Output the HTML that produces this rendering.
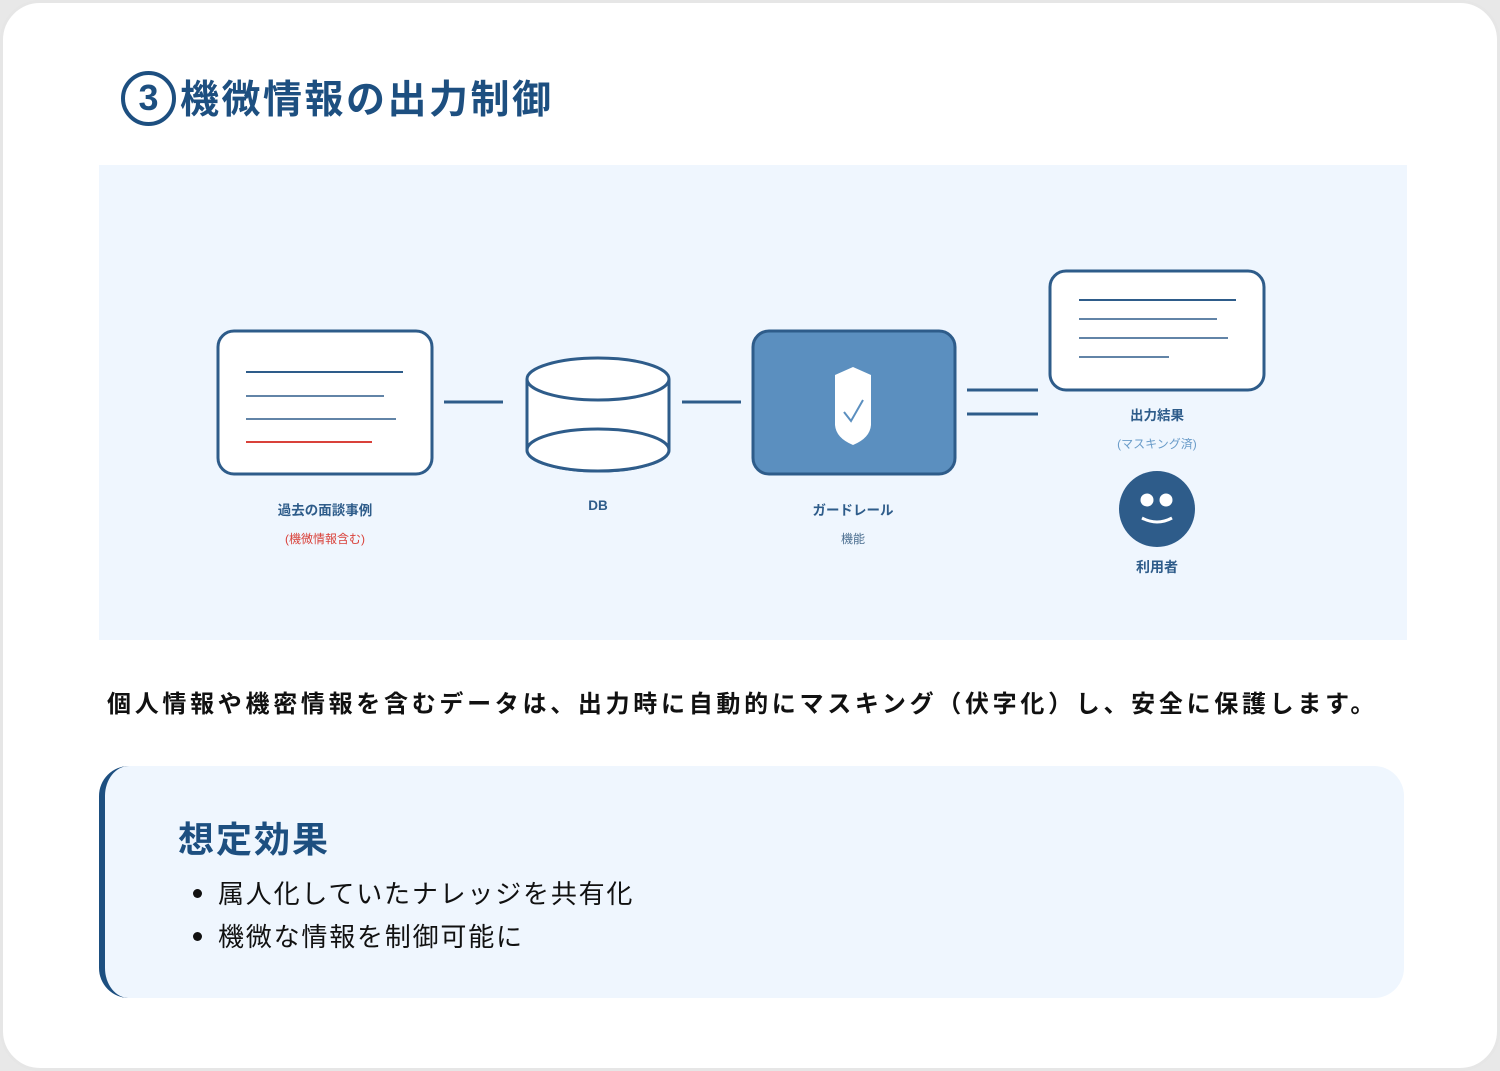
<!DOCTYPE html>
<html><head><meta charset="utf-8"><style>
*{margin:0;padding:0;box-sizing:border-box}
body{width:1500px;height:1071px;background:#e8e8e8;font-family:"Liberation Sans","Noto Sans CJK JP",sans-serif;position:relative;overflow:hidden}
.card{position:absolute;left:0;top:0;width:1500px;height:1071px;background:#fff;border:3px solid #e6e6e6;border-radius:40px}
.abs{position:absolute}
.title{left:180px;top:69px;font-size:39px;font-weight:bold;color:#1d4f80;white-space:nowrap;letter-spacing:2.5px}
.circ{left:121px;top:71px;width:55px;height:55px;border:4px solid #1d4f80;border-radius:50%;color:#1d4f80;font-size:36px;font-weight:bold;text-align:center;line-height:46px}
.panel{left:99px;top:165px;width:1308px;height:475px;background:#eff6fe}
.lbl{font-weight:bold;color:#2e5c8a;font-size:13.5px;text-align:center;width:200px;white-space:nowrap}
.sub{font-size:12px;text-align:center;width:200px;white-space:nowrap}
.sent{left:107px;top:684px;font-size:24px;font-weight:bold;color:#111;letter-spacing:3.7px;white-space:nowrap}
.eff{left:99px;top:766px;width:1305px;height:232px;background:#eff6fe;border-radius:30px;border-left:6px solid #1d4f80}
.h{left:178px;top:811px;font-size:36px;font-weight:bold;color:#1d4f80;letter-spacing:2px}
.li{left:218px;font-size:26px;color:#111;letter-spacing:1.8px;white-space:nowrap}
.dot{left:193px;width:9px;height:9px;border-radius:50%;background:#111}
</style></head><body>
<div class="card"></div>
<div class="abs circ">3</div>
<div class="abs title">機微情報の出力制御</div>
<div class="abs panel"></div>
<svg class="abs" style="left:0;top:0" width="1500" height="1071">
<g stroke="#2e5c8a" fill="none">
<rect x="218" y="331" width="214" height="143" rx="16" fill="#fff" stroke-width="3"/>
<line x1="246" y1="372" x2="403" y2="372" stroke-width="2"/>
<line x1="246" y1="396" x2="384" y2="396" stroke-width="1.4"/>
<line x1="246" y1="419" x2="396" y2="419" stroke-width="1.4"/>
<line x1="246" y1="442" x2="372" y2="442" stroke="#d9413a" stroke-width="2"/>
<line x1="444" y1="402" x2="503" y2="402" stroke-width="3"/>
<path d="M527 379 V450 A71 21 0 0 0 669 450 V379" fill="#fff" stroke-width="3"/>
<ellipse cx="598" cy="450" rx="71" ry="21" fill="#fff" stroke-width="3"/>
<ellipse cx="598" cy="379" rx="71" ry="21" fill="#fff" stroke-width="3"/>
<line x1="682" y1="402" x2="741" y2="402" stroke-width="3"/>
<rect x="753" y="331" width="202" height="143" rx="16" fill="#5b8fbf" stroke-width="3"/>
<line x1="967" y1="390" x2="1038" y2="390" stroke-width="3"/>
<line x1="967" y1="414" x2="1038" y2="414" stroke-width="3"/>
<rect x="1050" y="271" width="214" height="119" rx="16" fill="#fff" stroke-width="3"/>
<line x1="1079" y1="300" x2="1236" y2="300" stroke-width="2"/>
<line x1="1079" y1="319" x2="1217" y2="319" stroke-width="1.4"/>
<line x1="1079" y1="338" x2="1228" y2="338" stroke-width="1.4"/>
<line x1="1079" y1="357" x2="1169" y2="357" stroke-width="1.4"/>
</g>
<path d="M853 367 L871 375 V425 Q870 438 853 445 Q836 438 835 425 V375 Z" fill="#fff"/>
<path d="M844 412 L851 421 L863 400" stroke="#5b8fbf" stroke-width="2" fill="none"/>
<circle cx="1157" cy="509" r="38" fill="#2e5c8a"/>
<circle cx="1147" cy="500" r="6.5" fill="#fff"/>
<circle cx="1166" cy="500" r="6.5" fill="#fff"/>
<path d="M1142 518 Q1157 526 1172 518" stroke="#fff" stroke-width="3" fill="none"/>
</svg>
<div class="abs lbl" style="left:225px;top:499px">過去の面談事例</div>
<div class="abs sub" style="left:225px;top:530px;color:#d9413a">(機微情報含む)</div>
<div class="abs lbl" style="left:498px;top:498px">DB</div>
<div class="abs lbl" style="left:753px;top:499px">ガードレール</div>
<div class="abs sub" style="left:753px;top:530px;color:#4a6d8f">機能</div>
<div class="abs lbl" style="left:1057px;top:404px">出力結果</div>
<div class="abs sub" style="left:1057px;top:435px;color:#6a9cc9">(マスキング済)</div>
<div class="abs lbl" style="left:1057px;top:557px;font-size:14px">利用者</div>
<div class="abs sent">個人情報や機密情報を含むデータは、出力時に自動的にマスキング（伏字化）し、安全に保護します。</div>
<div class="abs eff"></div>
<div class="abs h">想定効果</div>
<div class="abs dot" style="top:889px"></div>
<div class="abs li" style="top:874px">属人化していたナレッジを共有化</div>
<div class="abs dot" style="top:932px"></div>
<div class="abs li" style="top:917px">機微な情報を制御可能に</div>
</body></html>
